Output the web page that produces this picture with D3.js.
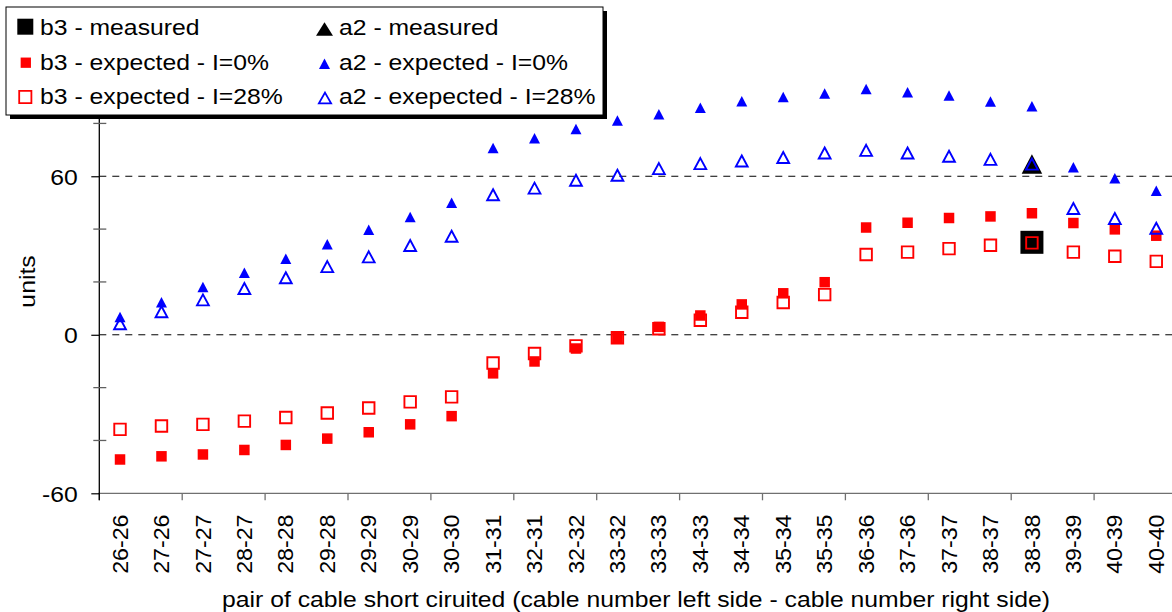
<!DOCTYPE html>
<html>
<head>
<meta charset="utf-8">
<script src="https://cdn.jsdelivr.net/npm/d3@7"></script>
<style>
  html, body { margin: 0; padding: 0; background: #fff; }
  svg { display: block; font-family: "Liberation Sans", Arial, sans-serif; }
</style>
</head>
<body>
<svg id="chart" width="1172" height="612"></svg>
<script>
// ---------- data ----------
const categories = ["26-26","27-26","27-27","28-27","28-28","29-28","29-29","30-29","30-30","31-31","32-31","32-32","33-32","33-33","34-33","34-34","35-34","35-35","36-36","37-36","37-37","38-37","38-38","39-39","40-39","40-40"];
const b3Measured = [null,null,null,null,null,null,null,null,null,null,null,null,null,null,null,null,null,null,null,null,null,null,35.0,null,null,null];
const a2Measured = [null,null,null,null,null,null,null,null,null,null,null,null,null,null,null,null,null,null,null,null,null,null,64.6,null,null,null];
const b3Expected0 = [-47.2,-46.0,-45.3,-43.6,-41.7,-39.3,-36.9,-33.9,-30.8,-14.6,-10.1,-5.2,-1.2,3.0,7.3,11.5,15.7,19.9,40.6,42.4,44.2,44.8,46.0,42.3,39.9,37.5];
const a2Expected0 = [6.7,12.3,18.1,23.5,28.8,34.3,39.8,44.6,50.0,70.7,74.4,77.9,81.1,83.5,85.9,88.4,90.0,91.3,93.0,91.8,90.6,88.3,86.5,63.4,59.2,54.5];
const b3Expected28 = [-35.8,-34.5,-33.9,-32.7,-31.3,-29.6,-27.7,-25.4,-23.5,-10.7,-7.1,-4.2,-1.1,2.3,5.5,8.5,12.2,15.2,30.4,31.3,32.6,33.9,34.8,31.3,29.7,27.8];
const a2Expected28 = [4.2,8.7,13.2,17.5,21.6,25.8,29.5,33.8,37.3,53.0,55.5,58.5,60.4,62.9,64.8,65.8,67.1,68.8,69.8,68.8,67.6,66.4,64.6,47.8,44.0,40.3];
const yTickLabels = [-60, 0, 60];
const yMinorTicks = [-40, -20, 20, 40, 80, 100];
const gridValues = [0, 60];
const legendLabels = ["b3 - measured","a2 - measured","b3 - expected - I=0%","a2 - expected - I=0%","b3 - expected - I=28%","a2 - exepected - I=28%"];
const xTitle = "pair of cable short ciruited (cable number left side - cable number right side)";
const yTitle = "units";

// ---------- layout ----------
const svg = d3.select("#chart");
const SX = 1.125; // horizontal text stretch
const FS = 22;
const left = 99.3, bottom = 493.3, pxPerUnit = 2.642;

const x = d3.scaleBand().domain(categories).range([left, left + 26 * 41.45]).paddingInner(0).paddingOuter(0);
const y = d3.scaleLinear().domain([-60, 100]).range([bottom, bottom - 160 * pxPerUnit]);
const cx = c => x(c) + x.bandwidth() / 2;

// gridlines
svg.append("g").selectAll("line").data(gridValues).join("line")
  .attr("x1", left).attr("x2", 1172)
  .attr("y1", d => y(d)).attr("y2", d => y(d))
  .attr("stroke", "#000").attr("stroke-width", 1).attr("stroke-dasharray", "7,6");

// x axis line + ticks
const xAxisG = svg.append("g");
xAxisG.append("line").attr("x1", left - 1).attr("x2", 1172).attr("y1", bottom).attr("y2", bottom)
  .attr("stroke", "#707070").attr("stroke-width", 1.3);
const tickCats = categories.filter((c, i) => i % 2 === 0);
xAxisG.selectAll("line.t").data(tickCats).join("line").attr("class", "t")
  .attr("x1", d => x(d)).attr("x2", d => x(d))
  .attr("y1", bottom).attr("y2", bottom + 7)
  .attr("stroke", "#707070").attr("stroke-width", 1.3);

// category labels
svg.append("g").selectAll("text").data(categories).join("text")
  .attr("transform", d => `translate(${cx(d) + 7.6},${514.5}) rotate(-90) scale(1.08,1)`)
  .attr("text-anchor", "end")
  .attr("font-size", 21.5)
  .attr("fill", "#000")
  .text(d => d);

// y axis
const yAxis = d3.axisLeft(y).tickValues(yTickLabels).tickSize(8).tickFormat(d => String(d));
const yAxisG = svg.append("g").attr("transform", `translate(${left},0)`).call(yAxis);
yAxisG.select(".domain").remove();
yAxisG.selectAll(".tick line").attr("stroke", "#000").attr("stroke-width", 1.2);
yAxisG.selectAll(".tick text")
  .attr("x", null).attr("dy", null)
  .attr("transform", "translate(-21.6,7.8) scale(" + SX + ",1)")
  .attr("font-size", FS).attr("font-family", "Liberation Sans, Arial, sans-serif")
  .attr("fill", "#000");
yAxisG.append("line").attr("x1", 0).attr("x2", 0).attr("y1", y(100)).attr("y2", bottom + 7)
  .attr("stroke", "#000").attr("stroke-width", 1.3);
svg.append("g").selectAll("line").data(yMinorTicks).join("line")
  .attr("x1", left - 6).attr("x2", left + 7)
  .attr("y1", d => y(d)).attr("y2", d => y(d))
  .attr("stroke", "#606060").attr("stroke-width", 1.3);

// axis titles
svg.append("text")
  .attr("transform", `translate(636,607) scale(${SX},1)`)
  .attr("text-anchor", "middle").attr("font-size", FS).attr("fill", "#000")
  .text(xTitle);
svg.append("text")
  .attr("transform", `translate(35,281.5) rotate(-90) scale(${SX},1)`)
  .attr("text-anchor", "middle").attr("font-size", FS).attr("fill", "#000")
  .text(yTitle);

// ---------- marker helpers ----------
const tri = (w, h) => `M0,${-h/2}L${w/2},${h/2}L${-w/2},${h/2}Z`;
const sq = s => `M${-s/2},${-s/2}h${s}v${s}h${-s}Z`;

const seriesDefs = [
  { values: b3Measured, path: sq(23), fill: "#000", stroke: "none", sw: 0 },
  { values: a2Measured, path: tri(20.5, 19.5), fill: "#000", stroke: "none", sw: 0 },
  { values: b3Expected0, path: sq(10.5), fill: "#ff0000", stroke: "none", sw: 0 },
  { values: a2Expected0, path: tri(11, 10.5), fill: "#0000ff", stroke: "none", sw: 0 },
  { values: b3Expected28, path: sq(11.5), fill: "none", stroke: "#ff0000", sw: 1.9 },
  { values: a2Expected28, path: tri(11.8, 11), fill: "none", stroke: "#0000ff", sw: 1.9 }
];

const plot = svg.append("g");
seriesDefs.forEach(s => {
  const pts = categories.map((c, i) => ({ c, v: s.values[i] })).filter(d => d.v !== null);
  plot.append("g").selectAll("path").data(pts).join("path")
    .attr("transform", d => `translate(${cx(d.c)},${y(d.v)})`)
    .attr("d", s.path)
    .attr("fill", s.fill)
    .attr("stroke", s.stroke)
    .attr("stroke-width", s.sw)
    .attr("stroke-linejoin", "miter");
});

// ---------- legend ----------
const lg = svg.append("g");
lg.append("rect").attr("x", 10).attr("y", 11).attr("width", 597).attr("height", 108).attr("fill", "#000");
lg.append("rect").attr("x", 6).attr("y", 7).attr("width", 597).attr("height", 108)
  .attr("fill", "#fff").attr("stroke", "#000").attr("stroke-width", 1);

const legendMarkers = [
  { path: sq(16), fill: "#000", stroke: "none", sw: 0, mx: 25.3, my: 26.7 },
  { path: tri(17, 13.5), fill: "#000", stroke: "none", sw: 0, mx: 324.5, my: 29 },
  { path: sq(10.3), fill: "#ff0000", stroke: "none", sw: 0, mx: 25.8, my: 62.7 },
  { path: tri(11, 10.5), fill: "#0000ff", stroke: "none", sw: 0, mx: 324.5, my: 63.7 },
  { path: sq(12.2), fill: "none", stroke: "#ff0000", sw: 1.8, mx: 25.3, my: 97 },
  { path: tri(12.2, 10.8), fill: "none", stroke: "#0000ff", sw: 1.8, mx: 325, my: 98 }
];
const textX = [40, 339, 40, 339, 40, 339];
const textY = [35, 35, 70, 70, 104, 104];
legendMarkers.forEach((m, i) => {
  lg.append("path").attr("transform", `translate(${m.mx},${m.my})`).attr("d", m.path)
    .attr("fill", m.fill).attr("stroke", m.stroke).attr("stroke-width", m.sw);
  lg.append("text").attr("transform", `translate(${textX[i]},${textY[i]}) scale(${SX},1)`)
    .attr("font-size", FS).attr("fill", "#000").text(legendLabels[i]);
});
</script>
</body>
</html>
